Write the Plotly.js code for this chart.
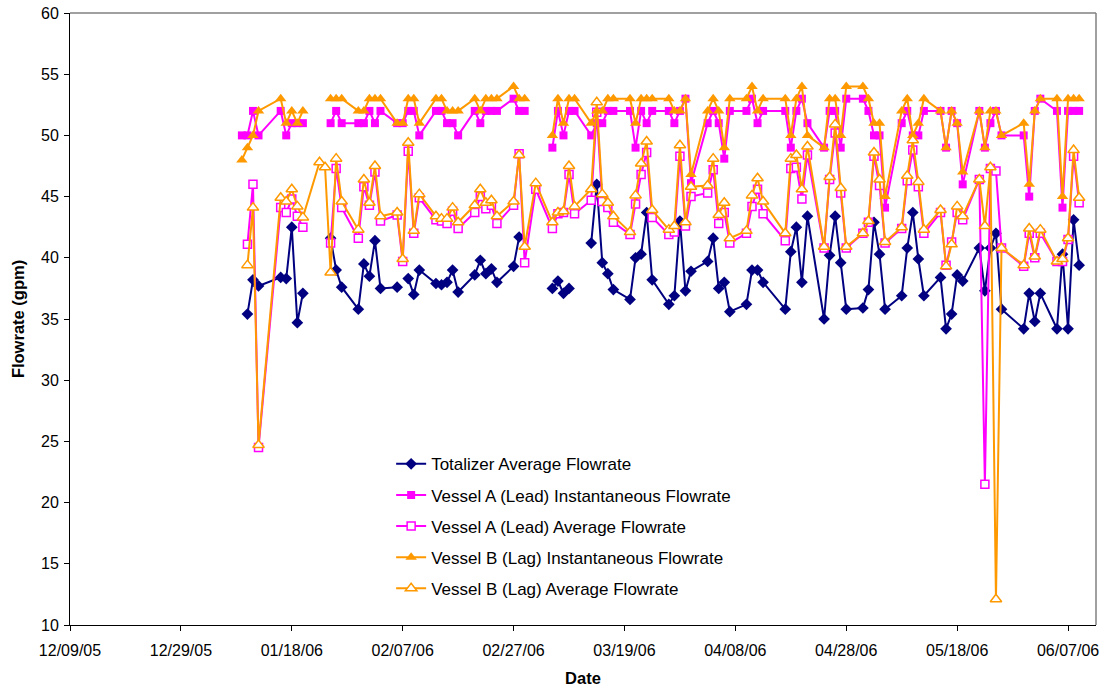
<!DOCTYPE html>
<html>
<head>
<meta charset="utf-8">
<script src="https://cdn.plot.ly/plotly-3.0.1.min.js"></script>
<style>
  html, body { margin: 0; padding: 0; background: #ffffff; }
  #chart { width: 1106px; height: 692px; }
</style>
</head>
<body>
<div id="chart"></div>
<script>
// Dates of readings
const dates = [
  '2006-01-09','2006-01-10','2006-01-11','2006-01-12','2006-01-16','2006-01-17','2006-01-18','2006-01-19','2006-01-20',
  '2006-01-23','2006-01-24','2006-01-25','2006-01-26','2006-01-27','2006-01-30','2006-01-31','2006-02-01','2006-02-02','2006-02-03',
  '2006-02-06','2006-02-07','2006-02-08','2006-02-09','2006-02-10','2006-02-13','2006-02-14','2006-02-15','2006-02-16','2006-02-17',
  '2006-02-20','2006-02-21','2006-02-22','2006-02-23','2006-02-24','2006-02-27','2006-02-28','2006-03-01','2006-03-03',
  '2006-03-06','2006-03-07','2006-03-08','2006-03-09','2006-03-10','2006-03-13','2006-03-14','2006-03-15','2006-03-16','2006-03-17',
  '2006-03-20','2006-03-21','2006-03-22','2006-03-23','2006-03-24','2006-03-27','2006-03-28','2006-03-29','2006-03-30','2006-03-31',
  '2006-04-03','2006-04-04','2006-04-05','2006-04-06','2006-04-07','2006-04-10','2006-04-11','2006-04-12','2006-04-13',
  '2006-04-17','2006-04-18','2006-04-19','2006-04-20','2006-04-21','2006-04-24','2006-04-25','2006-04-26','2006-04-27','2006-04-28',
  '2006-05-01','2006-05-02','2006-05-03','2006-05-04','2006-05-05','2006-05-08','2006-05-09','2006-05-10','2006-05-11','2006-05-12',
  '2006-05-15','2006-05-16','2006-05-17','2006-05-18','2006-05-19','2006-05-22','2006-05-23','2006-05-24','2006-05-25','2006-05-26',
  '2006-05-30','2006-05-31','2006-06-01','2006-06-02','2006-06-05','2006-06-06','2006-06-07','2006-06-08','2006-06-09'
];

// Totalizer Average Flowrate (gpm)
const totalizer = [
  null,35.4,38.2,37.7,38.4,38.3,42.5,34.7,37.1,
  null,null,41.6,39.0,37.6,35.8,39.5,38.5,41.4,37.5,
  37.6,null,38.3,37.0,39.0,37.9,37.8,38.0,39.0,37.2,
  38.6,39.8,38.7,39.1,38.0,39.3,41.7,null,null,
  37.5,38.1,37.1,37.5,null,41.2,46.0,39.6,38.7,37.4,
  36.6,40.0,40.3,43.7,38.2,36.2,36.9,43.0,37.3,38.9,
  39.7,41.6,37.5,38.0,35.6,36.2,39.0,39.0,38.0,
  35.8,40.5,42.5,38.0,43.4,35.0,40.2,43.4,39.6,35.8,
  35.9,37.4,42.9,40.3,35.8,36.9,40.8,43.7,39.9,36.9,
  38.4,34.2,35.4,38.6,38.1,40.8,37.3,40.8,42.0,35.8,
  34.2,37.1,34.8,37.1,34.2,40.3,34.2,43.1,39.4
];

// Vessel A (Lead) Instantaneous Flowrate
const leadInst = [
  50,50,52,50,52,50,51,51,51,
  null,null,51,52,51,51,51,52,51,52,
  51,51,52,52,50,52,52,51,51,50,
  52,51,52,52,52,53,52,52,null,
  49,52,50,52,52,50,51,51,52,52,
  52,49,52,51,52,52,51,52,53,46.1,
  51,52,51,48.1,52,52,53,51,52,
  52,49,52,53,51,49,52,52,49,53,
  53,52,50,50,44.1,51,52,50,50,52,
  52,49,52,51,46,52,49,51,52,50,
  50,45,52,53,52,44.1,52,52,52
];

// Vessel A (Lead) Average Flowrate
const leadAvg = [
  null,41.1,46.0,24.5,44.1,43.7,44.8,43.4,42.5,
  null,null,41.2,47.3,44.1,41.6,45.8,44.3,47.0,43.0,
  43.5,39.7,48.7,42.0,44.9,43.1,43.0,42.8,43.8,42.4,
  43.7,45.0,44.0,44.3,42.8,44.3,48.5,39.6,45.6,
  42.4,43.6,43.7,46.8,43.6,44.7,51.9,44.6,44.1,42.9,
  41.9,44.4,46.8,48.6,43.3,41.9,42.1,48.3,42.6,45.0,
  45.3,47.2,42.8,43.7,41.2,42.0,44.2,45.6,43.6,
  41.4,47.3,47.4,44.8,48.4,40.8,46.4,50.2,45.3,40.8,
  42.0,42.9,48.3,45.9,41.2,42.4,46.3,48.8,45.8,42.0,
  43.7,39.4,41.3,43.7,43.1,46.4,21.5,47.3,47.1,40.8,
  39.3,42.0,40.0,42.0,39.7,39.7,41.5,48.3,44.5
];

// Vessel B (Lag) Instantaneous Flowrate
const lagInst = [
  48,49,50,52,53,51,52,51,52,
  null,null,53,53,53,52,52,53,53,53,
  51,51,53,53,51,53,53,52,52,52,
  53,52,53,53,53,54,53,53,null,
  50,53,51,53,53,51,52,52,53,53,
  53,51,53,53,53,53,52,52,53,46.8,
  52,53,52,49,53,53,54,52,53,
  53,50,53,54,50,49,53,53,50,54,
  54,53,51,51,45,52,53,50,51,53,
  52,49,52,51,47,52,49,52,52,50,
  51,46,52,53,53,45,53,53,53
];

// Vessel B (Lag) Average Flowrate
const lagAvg = [
  null,39.4,44.1,24.7,44.9,44.6,45.6,44.2,43.3,
  47.8,47.4,38.8,48.1,44.6,42.3,46.4,44.5,47.5,43.4,
  43.7,39.9,49.4,42.2,45.2,43.4,43.2,43.2,44.1,42.9,
  44.3,45.6,44.5,44.7,43.4,44.6,48.4,40.9,46.1,
  42.9,43.7,43.8,47.5,44.2,45.6,52.7,45.2,44.5,43.4,
  42.1,45.1,47.7,49.5,43.9,42.3,42.6,49.2,42.9,45.8,
  45.9,48.1,43.5,44.5,41.6,42.2,45.1,46.5,44.6,
  42.0,48.1,48.4,45.6,49.1,40.9,46.6,50.9,45.7,40.9,
  42.0,43.0,48.6,46.4,41.3,42.5,46.7,49.6,46.2,42.3,
  43.9,39.3,41.1,44.2,43.4,46.4,42.6,47.4,12.1,40.8,
  39.4,42.4,40.1,42.3,39.7,39.9,41.6,48.8,44.9
];

const seriesNames = [
  'Totalizer Average Flowrate',
  'Vessel A (Lead) Instantaneous Flowrate',
  'Vessel A (Lead) Average Flowrate',
  'Vessel B (Lag) Instantaneous Flowrate',
  'Vessel B (Lag) Average Flowrate'
];

const NAVY = '#000080', MAGENTA = '#FF00FF', ORANGE = '#FF9900';
const FONT = 'Arial, "Liberation Sans", sans-serif';

function mk(name, y, color, symbol, fill, size, group) {
  return {
    type: 'scatter', mode: 'lines+markers', name: name, x: dates, y: y,
    connectgaps: false, legendgroup: group,
    line: { color: color, width: 2 },
    marker: { symbol: symbol, size: size, color: fill, line: { color: color, width: fill === '#ffffff' ? 1.5 : 0 } }
  };
}

const traces = [
  mk(seriesNames[0], totalizer, NAVY, 'diamond', NAVY, 9, 'g1'),
  mk(seriesNames[1], leadInst, MAGENTA, 'square', MAGENTA, 8, 'g2'),
  mk(seriesNames[2], leadAvg, MAGENTA, 'square', '#ffffff', 8, 'g3'),
  mk(seriesNames[3], lagInst, ORANGE, 'triangle-up', ORANGE, 10, 'g4'),
  mk(seriesNames[4], lagAvg, ORANGE, 'triangle-up', '#ffffff', 10, 'g5')
];

const layout = {
  width: 1106, height: 692,
  margin: { l: 70, r: 10, t: 13, b: 67 },
  paper_bgcolor: '#ffffff', plot_bgcolor: '#ffffff',
  font: { family: FONT, size: 16, color: '#000000' },
  showlegend: true,
  legend: {
    x: 0.313, y: 0.292, xanchor: 'left', yanchor: 'top',
    bgcolor: 'rgba(255,255,255,0)', borderwidth: 0,
    font: { family: FONT, size: 17, color: '#000000' },
    traceorder: 'grouped', tracegroupgap: 6
  },
  xaxis: {
    type: 'date',
    range: ['2005-12-09', '2006-06-12 01:00'],
    tick0: '2005-12-09', dtick: 20 * 86400000,
    tickformat: '%m/%d/%y',
    ticks: 'outside', ticklen: 5, tickcolor: '#000000',
    ticklabelstandoff: 6,
    showline: true, linecolor: '#000000', linewidth: 1,
    showgrid: false, zeroline: false,
    tickfont: { family: FONT, size: 16, color: '#000000' },
    title: { text: '<b>Date</b>', font: { family: FONT, size: 16.5, color: '#000000' }, standoff: 14 }
  },
  yaxis: {
    range: [10, 60], dtick: 5, tick0: 10,
    ticks: 'outside', ticklen: 5, tickcolor: '#000000',
    ticklabelstandoff: 2,
    showline: true, linecolor: '#000000', linewidth: 1,
    showgrid: false, zeroline: false,
    tickfont: { family: FONT, size: 16, color: '#000000' },
    title: { text: '<b>Flowrate (gpm)</b>', font: { family: FONT, size: 16.5, color: '#000000' }, standoff: 12 }
  },
  shapes: [
    { type: 'line', xref: 'paper', yref: 'paper', x0: 0, x1: 1, y0: 1, y1: 1, line: { color: '#808080', width: 1.5 } },
    { type: 'line', xref: 'paper', yref: 'paper', x0: 1, x1: 1, y0: 0, y1: 1, line: { color: '#808080', width: 1.5 } }
  ]
};

Plotly.newPlot('chart', traces, layout, { displayModeBar: false, staticPlot: true });
</script>
</body>
</html>
